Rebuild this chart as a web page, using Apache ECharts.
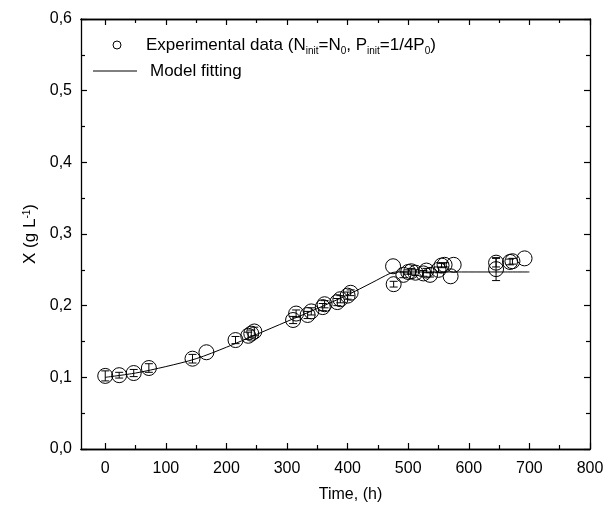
<!DOCTYPE html>
<html><head><meta charset="utf-8">
<script src="https://cdn.jsdelivr.net/npm/echarts@6/dist/echarts.min.js"></script>
<style>html,body{margin:0;padding:0;background:#fff}#c{width:613px;height:509px}</style>
</head><body><div id="c"></div>
<script>
// Experimental data
const expTime = [0, 23, 47, 72, 144, 167, 215, 236, 241, 246, 310, 315, 334, 340, 359, 362, 383, 388, 400, 405, 475, 476, 492, 500, 505, 512, 525, 530, 536, 550, 555, 560, 570, 575, 645, 645, 668, 672, 692];
const expX    = [0.102, 0.103, 0.106, 0.113, 0.126, 0.135, 0.152, 0.158, 0.161, 0.164, 0.180, 0.189, 0.187, 0.192, 0.198, 0.202, 0.205, 0.209, 0.214, 0.218, 0.255, 0.230, 0.243, 0.247, 0.248, 0.246, 0.245, 0.249, 0.243, 0.250, 0.256, 0.257, 0.241, 0.257, 0.260, 0.251, 0.261, 0.262, 0.266];
const expErr  = [0.007, 0.004, 0.005, 0.006, 0.006, 0, 0.005, 0.005, 0.005, 0.006, 0.005, 0.005, 0.005, 0.005, 0.005, 0.005, 0.005, 0.005, 0.005, 0.004, 0, 0.004, 0.004, 0.003, 0.004, 0.004, 0.004, 0.003, 0.003, 0.004, 0.003, 0.003, 0, 0, 0.006, 0.016, 0.004, 0.004, 0];
// Model fitting curve
const modelTime = [0, 50, 100, 150, 200, 250, 300, 350, 400, 440, 470, 480, 550, 600, 650, 700];
const modelX    = [0.100, 0.106, 0.115, 0.126, 0.142, 0.160, 0.178, 0.196, 0.215, 0.232, 0.245, 0.247, 0.247, 0.247, 0.247, 0.247];
// Axis ticks
const xMajor = [0, 100, 200, 300, 400, 500, 600, 700, 800];
const xMinor = [50, 150, 250, 350, 450, 550, 650, 750];

const FONT = 'Liberation Sans';
const chart = echarts.init(document.getElementById('c'));
const expData = expTime.map((t, i) => [t, expX[i], expErr[i]]);
const modelData = modelTime.map((t, i) => [t, modelX[i]]);

function xAx(pos, values, len, showLabel, showName) {
  return {
    type: 'value', position: pos, min: -40, max: 800,
    axisLine: { show: true, onZero: false, lineStyle: { color: '#000', width: 1.3 } },
    axisTick: { show: true, inside: true, length: len, customValues: values, lineStyle: { color: '#000', width: 1.2 } },
    axisLabel: { show: showLabel, customValues: values, color: '#000', fontFamily: FONT, fontSize: 16, margin: 12 },
    splitLine: { show: false },
    name: showName ? 'Time, (h)' : '', nameLocation: 'middle', nameGap: 38,
    nameTextStyle: { color: '#000', fontFamily: FONT, fontSize: 16, padding: [0, 0, 0, 30] }
  };
}
function yAx(pos, showLabel, showName) {
  return {
    type: 'value', position: pos, min: 0, max: 0.6, interval: 0.1,
    axisLine: { show: true, onZero: false, lineStyle: { color: '#000', width: 1.3 } },
    axisTick: { show: true, inside: true, length: 6, lineStyle: { color: '#000', width: 1.2 } },
    minorTick: { show: true, splitNumber: 2, length: 4, lineStyle: { color: '#000', width: 1.2 } },
    axisLabel: { show: showLabel, color: '#000', fontFamily: FONT, fontSize: 16, margin: 9,
      formatter: v => v.toFixed(1).replace('.', ',') },
    splitLine: { show: false },
    name: showName ? 'X (g L{sup|-1})' : '', nameLocation: 'middle', nameGap: 42,
    nameTextStyle: { color: '#000', fontFamily: FONT, fontSize: 17,
      rich: { sup: { fontFamily: FONT, fontSize: 10, verticalAlign: 'top', color: '#000' } } }
  };
}

chart.setOption({
  animation: false,
  backgroundColor: '#fff',
  grid: { left: 81, right: 23, top: 19, bottom: 60, containLabel: false },
  xAxis: [
    xAx('bottom', xMajor, 6, true, true),
    xAx('bottom', xMinor, 4, false, false),
    xAx('top', xMajor, 6, false, false),
    xAx('top', xMinor, 4, false, false)
  ],
  yAxis: [ yAx('left', true, true), yAx('right', false, false) ],
  graphic: [
    { type: 'circle', shape: { cx: 117, cy: 45, r: 4 }, style: { fill: 'none', stroke: '#000', lineWidth: 1 } },
    { type: 'text', x: 146, y: 45, style: {
        text: 'Experimental data (N{sub|init}=N{sub|0}, P{sub|init}=1/4P{sub|0})',
        fontFamily: FONT, fontSize: 17, fill: '#000', verticalAlign: 'middle',
        rich: { sub: { fontFamily: FONT, fontSize: 10, fill: '#000', verticalAlign: 'bottom', padding: [0, 0, -3, 0] } }
      } },
    { type: 'line', shape: { x1: 93, y1: 71, x2: 137, y2: 71 }, style: { stroke: '#000', lineWidth: 1 } },
    { type: 'text', x: 150, y: 71, style: { text: 'Model fitting', fontFamily: FONT, fontSize: 17, fill: '#000', verticalAlign: 'middle' } }
  ],
  series: [
    { type: 'line', data: modelData, smooth: 0.3, showSymbol: false, xAxisIndex: 0, yAxisIndex: 0,
      lineStyle: { color: '#000', width: 1 }, z: 2 },
    { type: 'custom', xAxisIndex: 0, yAxisIndex: 0, data: expData, z: 3,
      renderItem: function (params, api) {
        const t = api.value(0), x = api.value(1), e = api.value(2);
        const c = api.coord([t, x]);
        const children = [];
        if (e > 0) {
          const top = api.coord([t, x + e]), bot = api.coord([t, x - e]);
          children.push({ type: 'line', shape: { x1: c[0], y1: top[1], x2: c[0], y2: bot[1] }, style: { stroke: '#000', lineWidth: 1 } });
          children.push({ type: 'line', shape: { x1: c[0] - 4, y1: top[1], x2: c[0] + 4, y2: top[1] }, style: { stroke: '#000', lineWidth: 1 } });
          children.push({ type: 'line', shape: { x1: c[0] - 4, y1: bot[1], x2: c[0] + 4, y2: bot[1] }, style: { stroke: '#000', lineWidth: 1 } });
        }
        children.push({ type: 'circle', shape: { cx: c[0], cy: c[1], r: 7.5 }, style: { fill: 'none', stroke: '#000', lineWidth: 1 } });
        return { type: 'group', children: children };
      } }
  ]
});
</script></body></html>
